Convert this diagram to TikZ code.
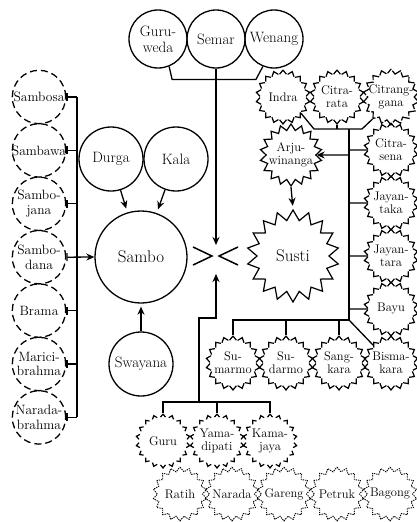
\documentclass[tikz,border=0pt]{standalone}
\usepackage{fontspec}
\usetikzlibrary{shapes.geometric,arrows.meta,calc}
\tikzset{
  figure/.style={circle,draw,line width=1.3pt,inner sep=-2pt,align=center,
    font=\fontsize{15}{16}\selectfont},
  elder/.style={circle,draw,line width=1.3pt,dash pattern=on 7pt off 4pt,
    inner sep=-4pt,minimum size=53.4pt,align=center,
    font=\fontsize{13.5}{14.5}\selectfont},
  deva/.style={star,star points=18,star point ratio=1.2,draw,line width=1.2pt,
    dash pattern=on 10.8pt off 1.64pt,dash phase=5.4pt,inner sep=-6pt,
    minimum size=54pt,align=center,font=\fontsize{12.5}{13}\selectfont},
  batara/.style={deva,dash pattern=on 8pt off 4.44pt,dash phase=4pt},
  faint/.style={deva,line width=.9pt,dash pattern=on 1.3pt off 1pt},
  bigstar/.style={deva,solid,star points=18,star point ratio=1.25},
}
\begin{document}
\begin{tikzpicture}[x=1pt,y=-1pt,line width=1.3pt,>={Stealth[length=8pt,width=7pt]}]
\useasboundingbox (0,0) rectangle (416,522);
% top row
\node[figure,minimum size=58pt] (guruweda) at (158,39) {Guru-\\weda};
\node[figure,minimum size=58pt] (semar) at (216,39) {Semar};
\node[figure,minimum size=58pt] (wenang) at (274,39) {Wenang};
% Sambo and its parents
\node[figure,minimum size=64pt] (durga) at (111,159) {Durga};
\node[figure,minimum size=64pt] (kala) at (176,159) {Kala};
\node[figure,minimum size=92pt,font=\fontsize{17}{18}\selectfont] (sambo) at (141,257) {Sambo};
\node[figure,minimum size=64pt] (swayana) at (141,364) {Swayana};
% left column
\node[elder] (sambosa) at (39,97) {Sambosa};
\node[elder] (sambawa) at (39,150.4) {Sambawa};
\node[elder] (sambojana) at (39,203.8) {Sambo-\\jana};
\node[elder] (sambodana) at (39,257.2) {Sambo-\\dana};
\node[elder] (brama) at (39,310.6) {Brama};
\node[elder] (marici) at (39,364) {Marici-\\brahma};
\node[elder] (naradab) at (39,417.4) {Narada-\\brahma};
% right side
\node[deva] (indra) at (283,97) {Indra};
\node[deva] (citrarata) at (337,97) {Citra-\\rata};
\node[deva] (citranggana) at (391,97) {Citrang-\\gana};
\node[deva] (citrasena) at (391,150) {Citra-\\sena};
\node[deva] (jayantaka) at (391,203) {Jayan-\\taka};
\node[deva] (jayantara) at (391,256) {Jayan-\\tara};
\node[deva] (bayu) at (391,309) {Bayu};
\node[deva] (bismakara) at (391,363) {Bisma-\\kara};
\node[deva] (sumarmo) at (233,363) {Su-\\marmo};
\node[deva] (sudarmo) at (286,363) {Su-\\darmo};
\node[deva] (sangkara) at (339,363) {Sang-\\kara};
\node[bigstar,minimum size=62pt] (arjuwinanga) at (291,155) {Arju-\\winanga};
\node[bigstar,minimum size=92pt,star point ratio=1.28,font=\fontsize{17}{18}\selectfont] (susti) at (293,256) {Susti};
% lower rows
\node[batara] (guru) at (163,441) {Guru};
\node[batara] (yamadipati) at (217,441) {Yama-\\dipati};
\node[batara] (kamajaya) at (270,441) {Kama-\\jaya};
\node[faint] (ratih) at (180,494) {Ratih};
\node[faint] (narada) at (232,494) {Narada};
\node[faint] (gareng) at (284,494) {Gareng};
\node[faint] (petruk) at (337,494) {Petruk};
\node[faint] (bagong) at (390,494) {Bagong};

% the meeting sign
\coordinate (meet) at (216,256);
\draw[line width=1.5pt] ($(meet)+(-23,-9)$) -- ($(meet)+(-4,0)$) -- ($(meet)+(-23,9)$);
\draw[line width=1.5pt] ($(meet)+(22,-9)$) -- ($(meet)+(3,0)$) -- ($(meet)+(22,9)$);

% top bracket
\draw (guruweda.-68) -- ++(3,13) -- ($(wenang.-112)+(-7,13)$) -- (wenang.-112);
\draw[->] (semar.south) -- ($(meet)+(0,-11)$);
% lower fork
\coordinate (lowfork) at (199,402);
\draw[->] (lowfork) |- (216,318) -- ($(meet)+(0,18)$);
\draw (guru.north) -- (guru.north |- lowfork) -- (kamajaya.north |- lowfork) -- (kamajaya.north);
\draw (yamadipati.north) -- (yamadipati.north |- lowfork);

% left bus
\coordinate (lbus) at (77,97);
\draw (sambosa -| lbus) -- (naradab -| lbus);
\foreach \n in {sambosa,sambawa,sambojana,brama,marici,naradab}
  \draw[{Bar[width=8pt]}-] (\n.east) -- (\n -| lbus);
\draw[{Bar[width=8pt]}->] (sambodana.east) -- (sambo.west);
\draw[->,shorten >=4pt] (durga) -- (sambo);
\draw[->,shorten >=4pt] (kala) -- (sambo);
\draw[->,shorten >=3pt] (swayana) -- (sambo);

% right bus
\coordinate (rtop) at (349,129);
\coordinate (rbot) at (349,320);
\draw (indra.-42) -- ($(rtop)+(-35,0)$) -- ($(rtop)+(13,0)$) -- (citranggana.-130);
\draw (citrarata.south) -- (citrarata.south |- rtop);
\draw (rtop) -- (rbot) -| (sumarmo.north);
\draw (sudarmo.north) -- (sudarmo.north |- rbot);
\draw (sangkara.north) -- (sangkara.north |- rbot);
\draw (rbot) -- (bismakara.135);
\foreach \n in {citrasena,jayantaka,jayantara,bayu}
  \draw (\n -| rtop) -- (\n.west);
\draw[->] (arjuwinanga -| rtop) -- (arjuwinanga.east);
\draw[->,shorten >=3pt] (arjuwinanga.south) -- (susti.north);
\end{tikzpicture}
\end{document}
